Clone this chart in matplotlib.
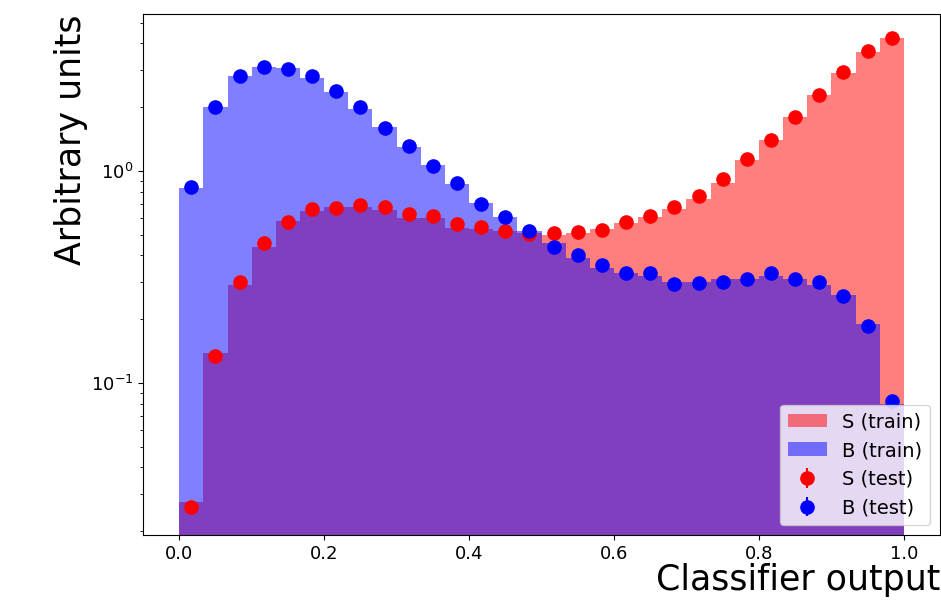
import numpy as np
import matplotlib
matplotlib.use("Agg")
import matplotlib.pyplot as plt

# bin contents (30 bins on [0, 1])
s_train = [0.0275, 0.139, 0.29, 0.44, 0.58, 0.65, 0.68, 0.68, 0.655, 0.60,
           0.60, 0.54, 0.53, 0.52, 0.51, 0.50, 0.51, 0.53, 0.57, 0.61,
           0.66, 0.74, 0.88, 1.13, 1.40, 1.80, 2.28, 2.90, 3.64, 4.24]
b_train = [0.83, 2.0, 2.8, 3.1, 3.06, 2.74, 2.36, 1.96, 1.61, 1.30,
           1.07, 0.87, 0.71, 0.61, 0.52, 0.46, 0.39, 0.35, 0.33, 0.32,
           0.30, 0.30, 0.31, 0.31, 0.32, 0.31, 0.29, 0.26, 0.19, 0.08]
s_test = [0.026, 0.134, 0.30, 0.457, 0.574, 0.66, 0.67, 0.69, 0.676, 0.627,
          0.614, 0.56, 0.545, 0.52, 0.504, 0.51, 0.515, 0.527, 0.574, 0.614,
          0.676, 0.762, 0.917, 1.14, 1.40, 1.80, 2.28, 2.93, 3.68, 4.24]
b_test = [0.84, 2.0, 2.81, 3.1, 3.03, 2.8, 2.39, 2.0, 1.6, 1.31,
          1.06, 0.88, 0.70, 0.61, 0.52, 0.44, 0.40, 0.36, 0.33, 0.33,
          0.293, 0.296, 0.30, 0.31, 0.33, 0.31, 0.30, 0.257, 0.186, 0.082]

bins = np.linspace(0, 1, 31)
centers = 0.5 * (bins[1:] + bins[:-1])

fig = plt.figure(figsize=(9.41, 6.09), dpi=100)
ax = fig.add_axes([0.152, 0.1215, 0.847, 0.8555])

ax.hist(centers, bins=bins, weights=s_train, color='r', alpha=0.5,
        histtype='stepfilled', label='S (train)')
ax.hist(centers, bins=bins, weights=b_train, color='b', alpha=0.5,
        histtype='stepfilled', label='B (train)')
ax.errorbar(centers, s_test, yerr=np.zeros(len(s_test)), fmt='o', color='r',
            markersize=9.5, label='S (test)')
ax.errorbar(centers, b_test, yerr=np.zeros(len(b_test)), fmt='o', color='b',
            markersize=9.5, label='B (test)')

ax.set_yscale('log')
ax.set_xlim(-0.05, 1.05)
ax.set_ylim(0.0192, 5.5)
ax.tick_params(labelsize=13)
ax.set_xlabel('Classifier output', fontsize=25, loc='right', labelpad=0)
ax.set_ylabel('Arbitrary units', fontsize=25, loc='top', labelpad=2)
ax.legend(loc='lower right', fontsize=14)

fig.savefig('out.png', dpi=100)
